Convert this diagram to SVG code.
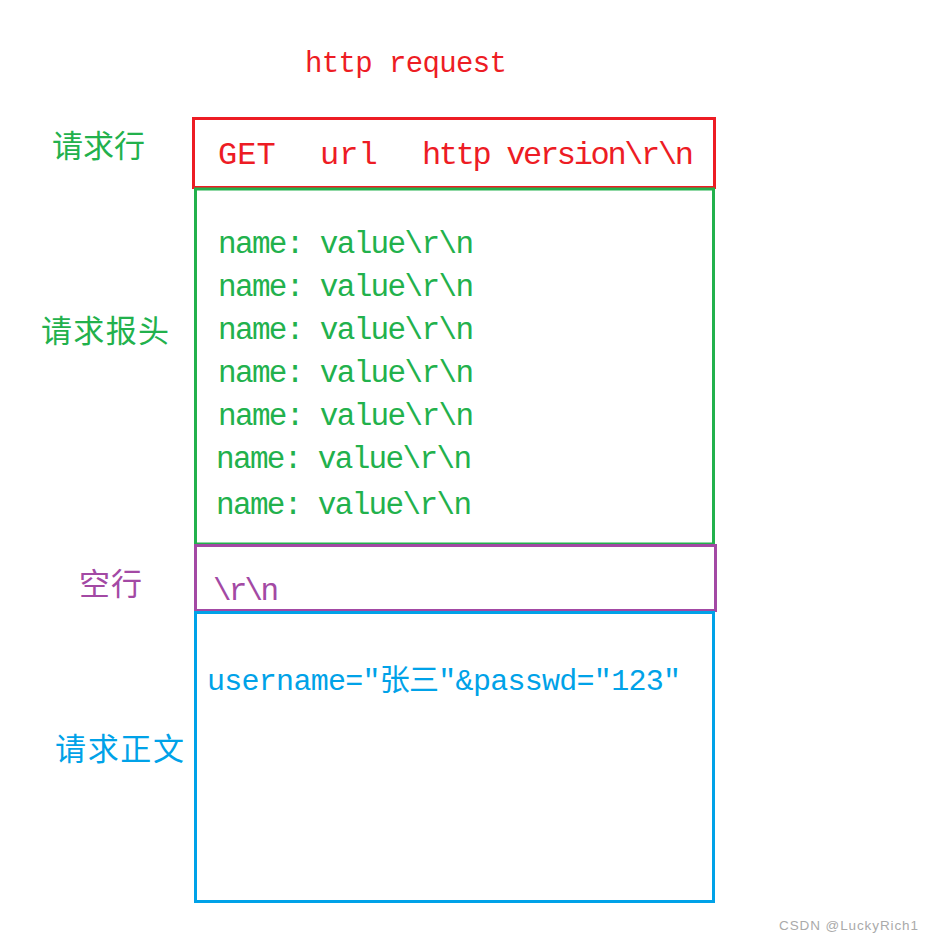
<svg xmlns="http://www.w3.org/2000/svg" width="934" height="942" viewBox="0 0 934 942">
<style>
.box{fill:none;stroke-width:3}
.mono{font-family:"Liberation Mono","Noto Sans CJK SC",monospace}
.cjk{font-family:"Noto Sans CJK SC",sans-serif;font-size:31px}
.red{fill:#ED1C24}.green{fill:#22B14C}.purple{fill:#A349A4}.blue{fill:#00A2E8}
</style>
<rect width="934" height="942" fill="#fff"/>
<text class="mono red" x="305" y="72" font-size="29" textLength="202">http request</text>
<g id="request-line">
<rect class="box" x="193.5" y="118.5" width="521" height="69" stroke="#ED1C24"/>
<text class="mono red" font-size="32" y="164"><tspan x="218">GET</tspan><tspan x="320">url</tspan><tspan x="422" textLength="272">http version\r\n</tspan></text>
<text class="cjk green" x="52" y="157">请求行</text>
</g>
<g id="request-headers">
<rect class="box" x="195.5" y="189" width="518" height="355" stroke="#22B14C"/>
<g class="mono green" font-size="31">
<text x="218" y="253" textLength="256">name: value\r\n</text>
<text x="218" y="296" textLength="256">name: value\r\n</text>
<text x="218" y="339" textLength="256">name: value\r\n</text>
<text x="218" y="382" textLength="256">name: value\r\n</text>
<text x="218" y="425" textLength="256">name: value\r\n</text>
<text x="216" y="468" textLength="256">name: value\r\n</text>
<text x="216" y="514" textLength="256">name: value\r\n</text>
</g>
<text class="cjk green" x="41" y="342" textLength="128">请求报头</text>
</g>
<g id="blank-line">
<rect class="box" x="195.5" y="545.5" width="520" height="65" stroke="#A349A4"/>
<text class="mono purple" font-size="31" x="213" y="600" textLength="66">\r\n</text>
<text class="cjk purple" x="79" y="595" textLength="63">空行</text>
</g>
<g id="request-body">
<rect class="box" x="195.5" y="612.5" width="518" height="289" stroke="#00A2E8"/>
<text class="mono blue" font-size="30" x="207" y="690" textLength="474">username=″张三″&amp;passwd=″123″</text>
<text class="cjk blue" x="55" y="760" textLength="129">请求正文</text>
</g>
<g id="connectors"></g>
<text x="779" y="930" font-family="Liberation Sans,sans-serif" font-size="13.5" fill="#aaa" textLength="139">CSDN @LuckyRich1</text>
</svg>
